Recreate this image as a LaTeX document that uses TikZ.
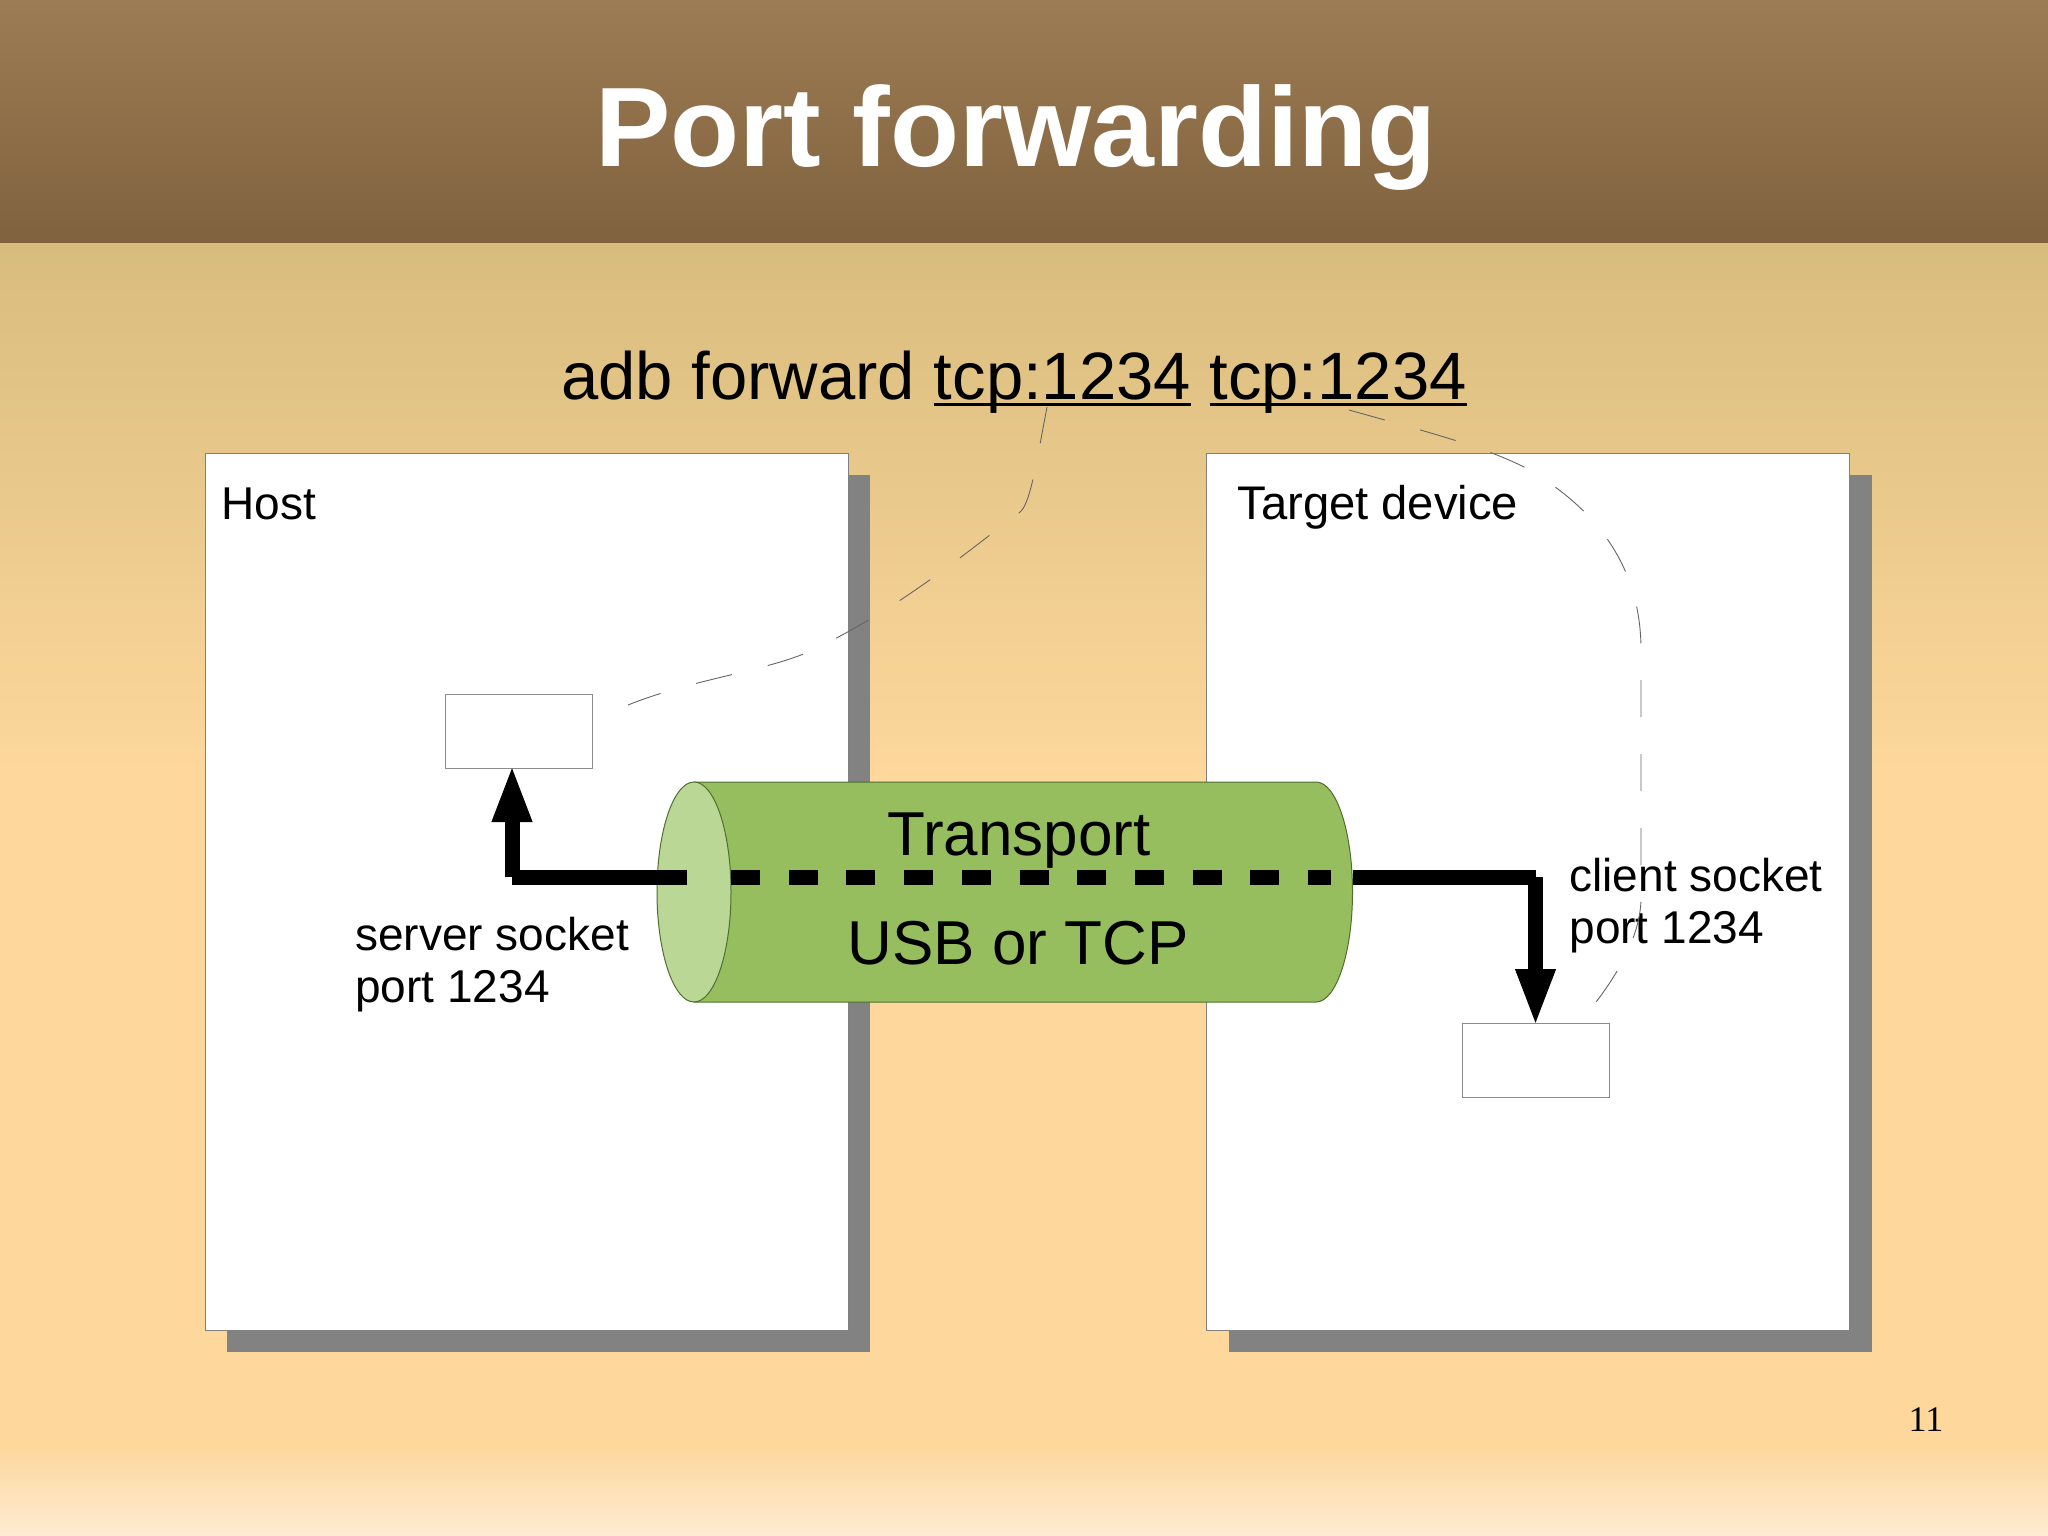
\documentclass[tikz,border=0pt]{standalone}
\usepackage{fontspec}
\setmainfont{Liberation Sans}
\newfontfamily\pagefont{Liberation Serif}
\usetikzlibrary{arrows.meta,positioning,shadows}

\definecolor{headtop}{HTML}{9C7C53}
\definecolor{headbottom}{HTML}{80623F}
\definecolor{slidetop}{HTML}{D8BC7E}
\definecolor{slidemid}{HTML}{FDD79B}
\definecolor{slidefoot}{HTML}{FEEBD2}
\definecolor{tubebody}{HTML}{97BE5E}
\definecolor{tubeend}{HTML}{BAD795}
\definecolor{tubeline}{HTML}{4F6F2F}

\newcommand{\portword}[1]{\setbox0\hbox{#1}\rlap{\rule[-3.5pt]{\wd0}{1.6pt}}\box0{}}

\begin{document}
\begin{tikzpicture}[x=0.5pt,y=-0.5pt,node distance=179.3pt,
                    panel node/.style={rectangle,draw=black!50,fill=white,line width=.5pt,
                      inner sep=0pt,outer sep=0pt,minimum width=321.5pt,minimum height=438.5pt,
                      drop shadow={shadow xshift=11pt,shadow yshift=-11pt,fill=black!49,opacity=1}},
                    socket node/.style={rectangle,draw=black!45,fill=white,line width=.5pt,
                      inner sep=0pt,outer sep=0pt,minimum width=73.5pt,minimum height=37pt},
                    label node/.style={inner sep=0pt,anchor=base west,align=left,
                      font=\fontsize{23}{26}\selectfont},
                    tube text/.style={inner sep=0pt,anchor=base,font=\fontsize{31}{36}\selectfont},
                    wire/.style={line width=7.5pt},
                    arrow wire/.style={-{Triangle[length=29pt,width=18pt]},shorten >=-2pt},
                    hint/.style={draw=black!60,line width=.45pt,dash pattern=on 18.5pt off 18.45pt}]
  \useasboundingbox (0,0) rectangle (2048,1535);

  %Slide%
  \fill[top color=slidetop,bottom color=slidemid] (0,243) rectangle (2048,770);
  \fill[slidemid] (0,770) rectangle (2048,1445);
  \fill[top color=slidemid,bottom color=slidefoot] (0,1445) rectangle (2048,1535);
  \fill[top color=headtop,bottom color=headbottom] (0,0) rectangle (2048,243);
  \node[inner sep=0pt,anchor=base,text=white,font=\fontsize{56.5}{60}\selectfont\bfseries] (title) at (1016,167) {Port forwarding};
  \node[inner sep=0pt,anchor=base,font=\fontsize{33.5}{40}\selectfont] (command) at (1014,399) {adb forward \portword{tcp:1234} \portword{tcp:1234}};

  %Panels%
  \node[panel node] (host) at (526.5,891.5) {};
  \node[panel node] (target) [right=of host] {};
  \node[label node] (hostname) at (221,519) {Host};
  \node[label node,font=\fontsize{23.6}{26}\selectfont] (targetname) at (1237,519) {Target device};

  %Sockets%
  \node[socket node] (hostbox) at (519,731) {};
  \node[socket node] (targetbox) at (1535.5,1060) {};
  \node[label node] (serverlabel) at (355,1002) {server socket\\port 1234};
  \node[label node] (clientlabel) at (1569,943) {client socket\\port 1234};

  %Transport%
  \draw[fill=tubebody,draw=tubeline,line width=.5pt] (694,782) -- (1316,782)
    arc [start angle=-90,end angle=90,x radius=36.5,y radius=110]
    -- (694,1002) -- cycle;
  \draw[fill=tubeend,draw=tubeline,line width=.5pt] (694,892) ellipse [x radius=37,y radius=110];
  \node[tube text] (transport) at (1019,855) {Transport};
  \node[tube text] (usb) at (1018,964) {USB or TCP};

  \coordinate (hostend) at (687,877);
  \coordinate (hostcorner) at (512,877);
  \coordinate (dashstart) at (731,877);
  \coordinate (dashend) at (1331,877);
  \coordinate (targetstart) at (1352.5,877);
  \coordinate (targetcorner) at (1535.5,877);

  \path[wire]
    (hostend) edge (hostcorner)
    (hostcorner) edge [arrow wire] (hostcorner |- hostbox.south)
    (dashstart) edge [dash pattern=on 14.5pt off 14.35pt] (dashend)
    (targetstart) edge (targetcorner)
    (targetcorner) edge [arrow wire] (targetbox.north);

  %Hints%
  \coordinate (hintA) at (1047,407);
  \coordinate (hintB) at (628,705);
  \coordinate (hintC) at (1349,410);
  \coordinate (hintD) at (1593,1006);
  \draw[hint] (hintA) .. controls (1035,470) and (1030,505) .. (1019,513)
    .. controls (975,545) and (900,610) .. (806,653)
    .. controls (760,672) and (690,680) .. (hintB);
  \draw[hint] (hintC) .. controls (1420,430) and (1480,445) .. (1524,467)
    .. controls (1600,510) and (1641,570) .. (1641,650)
    -- (1641,900) .. controls (1640,930) and (1625,965) .. (hintD);

  \node[inner sep=0pt,anchor=base,font=\fontsize{18}{20}\selectfont\pagefont] (pagenumber) at (1926,1431) {11};
\end{tikzpicture}
\end{document}
